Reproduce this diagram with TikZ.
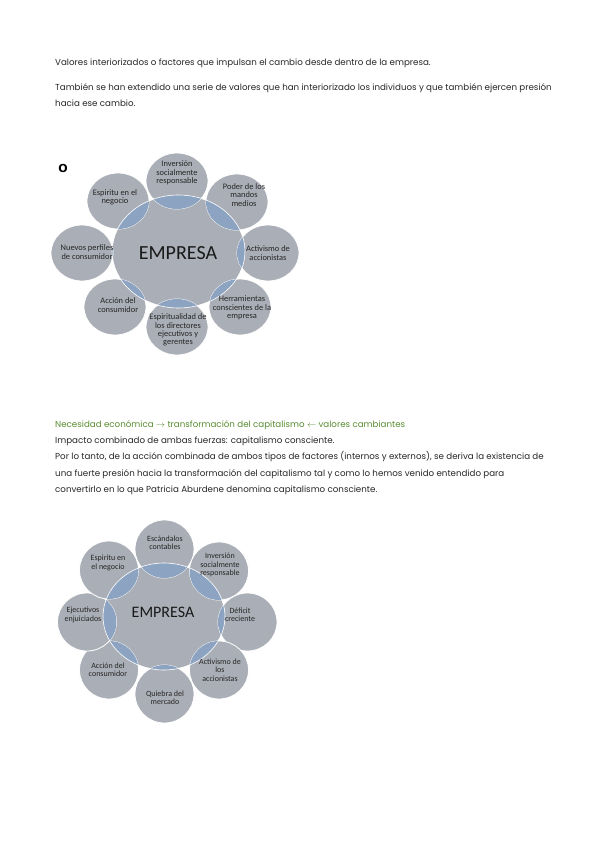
\documentclass[tikz,border=0pt]{standalone}
\usepackage{fontspec}
\setmainfont{Poppins}
\newfontfamily\calibri{Carlito}
\newfontfamily\negrita{DejaVu Sans}
\usetikzlibrary{shapes.geometric}

\definecolor{grisanillo}{RGB}{170,174,182}
\definecolor{azullente}{RGB}{140,164,194}
\definecolor{verdetit}{RGB}{88,140,48}

\tikzset{
  linea/.style={anchor=base west, inner sep=0pt, font=\fontsize{8.7}{10}\selectfont, text=black!85},
  circulo/.style={ellipse, fill=grisanillo, draw=white, line width=0.8pt, minimum width=62pt, minimum height=56pt, inner sep=0pt},
  circulob/.style={circulo, minimum width=59pt, minimum height=58pt},
  centro/.style={ellipse, fill=grisanillo, draw=white, line width=0.8pt, inner sep=0pt},
  rotulo/.style={align=center, inner sep=0pt, font=\calibri\fontsize{8.4}{8.3}\selectfont, text=black!85},
  rotulob/.style={rotulo, font=\calibri\fontsize{8}{8.3}\selectfont}
}

\begin{document}
\begin{tikzpicture}[x=1pt, y=-1pt]
\useasboundingbox (0,0) rectangle (599,848);

% texto de arriba
\node[linea] (l1) at (55,66) {Valores interiorizados o factores que impulsan el cambio desde dentro de la empresa.};
\node[linea] (l2) at (55,91) {También se han extendido una serie de valores que han interiorizado los individuos y que también ejercen presión};
\node[linea] (l3) at (55,107) {hacia ese cambio.};

\node[font=\negrita\bfseries\fontsize{11}{12}\selectfont, inner sep=0pt] (o) at (63,168) {O};

% primer esquema
\node[centro, minimum width=133pt, minimum height=113pt] (emp1) at (178.5,251.5) {};
\node[circulo] (a1) at (177,181) {};
\node[circulo] (a2) at (237,202) {};
\node[circulo] (a3) at (268,253) {};
\node[circulo] (a4) at (240,307) {};
\node[circulo] (a5) at (177,327) {};
\node[circulo] (a6) at (115,307) {};
\node[circulo] (a7) at (82,253) {};
\node[circulo] (a8) at (118,201) {};
\foreach \n in {a1,a2,a3,a4,a5,a6,a7,a8}{
  \begin{scope}
    \clip (emp1.center) ellipse (66.5pt and 56.5pt);
    \fill[azullente] (\n.center) ellipse (31pt and 28pt);
  \end{scope}
}
\draw[white, line width=0.6pt] (emp1.center) ellipse (66.5pt and 56.5pt);
\node[font=\calibri\fontsize{20}{22}\selectfont, inner sep=0pt, text=black!90] (e1) at (178,253) {EMPRESA};
\node[rotulo] (ta1) at (177,173) {Inversión\\socialmente\\responsable};
\node[rotulo] (ta2) at (244,195) {Poder de los\\mandos\\medios};
\node[rotulo] (ta3) at (268,253) {Activismo de\\accionistas};
\node[rotulo] (ta4) at (242,308) {Herramientas\\conscientes  de la\\empresa};
\node[rotulo] (ta5) at (178,330) {Espiritualidad  de\\los  directores\\ejecutivos y\\gerentes};
\node[rotulo] (ta6) at (118,305) {Acción del\\consumidor};
\node[rotulo] (ta7) at (87,252) {Nuevos perfiles\\de consumidor};
\node[rotulo] (ta8) at (115,197) {Espiritu en el\\negocio};

% texto del medio
\node[linea, text=verdetit] (l4) at (55,427) {Necesidad económica $\rightarrow$ transformación del capitalismo $\leftarrow$ valores cambiantes};
\node[linea] (l5) at (55,443) {Impacto combinado de ambas fuerzas: capitalismo consciente.};
\node[linea] (l6) at (55,459) {Por lo tanto, de la acción combinada de ambos tipos de factores (internos y externos), se deriva la existencia de};
\node[linea] (l7) at (55,476) {una fuerte presión hacia la transformación del capitalismo tal y como lo hemos venido entendido para};
\node[linea] (l8) at (55,492) {convertirlo en lo que Patricia Aburdene denomina capitalismo consciente.};

% segundo esquema
\node[centro, minimum width=122pt, minimum height=107pt] (emp2) at (164,616.5) {};
\node[circulob] (b1) at (164.5,549) {};
\node[circulob] (b2) at (219,571) {};
\node[circulob] (b3) at (247.5,622) {};
\node[circulob] (b4) at (219,670) {};
\node[circulob] (b5) at (164.5,694) {};
\node[circulob] (b6) at (109,670) {};
\node[circulob] (b7) at (87,622) {};
\node[circulob] (b8) at (109,570) {};
\foreach \n in {b1,b2,b3,b4,b5,b6,b7,b8}{
  \begin{scope}
    \clip (emp2.center) ellipse (61pt and 53.5pt);
    \fill[azullente] (\n.center) ellipse (29.5pt and 29pt);
  \end{scope}
}
\draw[white, line width=0.6pt] (emp2.center) ellipse (61pt and 53.5pt);
\node[font=\calibri\fontsize{16}{18}\selectfont, inner sep=0pt, text=black!90] (e2) at (163,612) {EMPRESA};
\node[rotulob] (tb1) at (165,543) {Escándalos\\contables};
\node[rotulob] (tb2) at (220,565) {Inversión\\socialmente\\responsable};
\node[rotulob] (tb3) at (240,615) {Déficit\\creciente};
\node[rotulob] (tb4) at (220,670) {Activismo de\\los\\accionistas};
\node[rotulob] (tb5) at (165,698) {Quiebra del\\mercado};
\node[rotulob] (tb6) at (108,670) {Acción del\\consumidor};
\node[rotulob] (tb7) at (83,615) {Ejecutivos\\enjuiciados};
\node[rotulob] (tb8) at (108,563) {Espiritu en\\el negocio};

\end{tikzpicture}
\end{document}
